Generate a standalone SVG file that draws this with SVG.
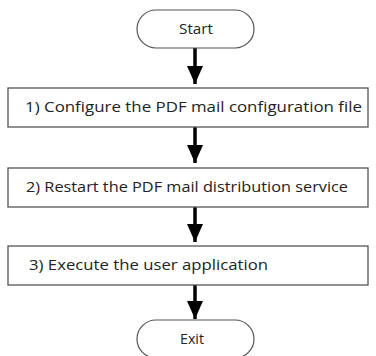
<svg xmlns="http://www.w3.org/2000/svg" width="376" height="356" viewBox="0 0 376 356">
<defs>
<style>
.term{fill:#fff;stroke:#555;stroke-width:1.2}
.box{fill:#fff;stroke:#555;stroke-width:1.3}
.t{font-family:"Open Sans","Liberation Sans",Arial,sans-serif;font-size:15px;fill:#222}
.c{text-anchor:middle}
.arr{stroke:#000;stroke-width:3.5;fill:none;marker-end:url(#ah)}
</style>
<marker id="ah" markerUnits="userSpaceOnUse" viewBox="0 0 18 16" refX="18" refY="8" markerWidth="18" markerHeight="16" orient="auto">
<path d="M0,0 L18,8 L0,16 z" fill="#000"/>
</marker>
</defs>
<g id="connectors">
<line class="arr" x1="195" y1="48" x2="195" y2="84"/>
<line class="arr" x1="195" y1="127" x2="195" y2="163"/>
<line class="arr" x1="195" y1="207" x2="195" y2="242"/>
<line class="arr" x1="195" y1="285" x2="195" y2="319"/>
</g>
<g id="start">
<rect class="term" x="137" y="10" width="117" height="38" rx="19" ry="19"/>
<text class="t c" x="196" y="34" textLength="34" lengthAdjust="spacingAndGlyphs">Start</text>
</g>
<g id="step1">
<rect class="box" x="8" y="88" width="360" height="39"/>
<text class="t" x="25" y="112" textLength="337" lengthAdjust="spacingAndGlyphs">1) Configure the PDF mail configuration file</text>
</g>
<g id="step2">
<rect class="box" x="8" y="168" width="360" height="39"/>
<text class="t" x="26" y="192" textLength="322" lengthAdjust="spacingAndGlyphs">2) Restart the PDF mail distribution service</text>
</g>
<g id="step3">
<rect class="box" x="8" y="246" width="360" height="39"/>
<text class="t" x="29" y="270" textLength="239" lengthAdjust="spacingAndGlyphs">3) Execute the user application</text>
</g>
<g id="exit">
<rect class="term" x="137" y="320" width="117" height="38" rx="19" ry="19"/>
<text class="t c" x="192" y="344" textLength="24" lengthAdjust="spacingAndGlyphs">Exit</text>
</g>
</svg>
